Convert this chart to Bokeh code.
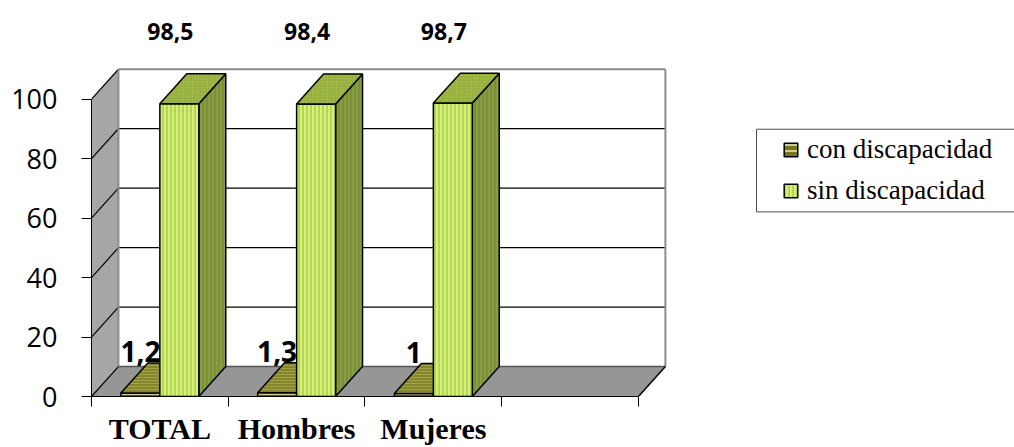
from bokeh.plotting import figure
from bokeh.models import Range1d, FixedTicker, Legend, LegendItem, BoxAnnotation
from bokeh.core.properties import value
from bokeh.embed import file_html
from bokeh.resources import INLINE

# ---- data -------------------------------------------------------------
categories = ["TOTAL", "Hombres", "Mujeres"]
con_discapacidad = [1.2, 1.3, 1.0]
sin_discapacidad = [98.5, 98.4, 98.7]
series_names = ["con discapacidad", "sin discapacidad"]
y_ticks = [0, 20, 40, 60, 80, 100]

# ---- layout of the 3-D box ----------------------------------------------
N_SLOTS = 4          # category axis keeps an empty slot after the last group
Y_MAX = 100
DEPTH_X = 0.197      # depth of the box, horizontal part (category units)
DEPTH_Y = 10.07      # depth of the box, vertical part (value units)
BAR_W = 0.285        # width of one bar (category units)
GAP = (1 - 2 * BAR_W) / 2

p = figure(width=1014, height=447, output_backend="svg", toolbar_location=None,
           x_range=Range1d(0, 6.75), y_range=Range1d(0, 133.2),
           min_border_left=91, min_border_right=0, min_border_top=0,
           min_border_bottom=50)
p.outline_line_color = None
p.grid.visible = False
p.background_fill_color = "white"

# left wall, floor and back wall
p.patch([0, DEPTH_X, DEPTH_X, 0], [0, DEPTH_Y, Y_MAX + DEPTH_Y, Y_MAX],
        fill_color="#a6a6a6", line_color=None)
p.patch([0, N_SLOTS, N_SLOTS + DEPTH_X, DEPTH_X], [0, 0, DEPTH_Y, DEPTH_Y],
        fill_color="#969696", line_color=None)
p.quad(left=DEPTH_X, right=N_SLOTS + DEPTH_X, bottom=DEPTH_Y, top=Y_MAX + DEPTH_Y,
       fill_color="white", line_color=None)

# gridlines on the back wall and their continuation on the left wall
inner = [t for t in y_ticks if 0 < t < Y_MAX]
p.segment(x0=[DEPTH_X] * len(inner), y0=[t + DEPTH_Y for t in inner],
          x1=[N_SLOTS + DEPTH_X] * len(inner), y1=[t + DEPTH_Y for t in inner],
          line_color="black", line_width=1.3)
p.segment(x0=[0] * len(y_ticks), y0=y_ticks,
          x1=[DEPTH_X] * len(y_ticks), y1=[t + DEPTH_Y for t in y_ticks],
          line_color="black", line_width=1.2)

# edges of the box
p.segment(x0=[DEPTH_X, N_SLOTS + DEPTH_X, DEPTH_X],
          y0=[Y_MAX + DEPTH_Y, DEPTH_Y, DEPTH_Y],
          x1=[N_SLOTS + DEPTH_X, N_SLOTS + DEPTH_X, DEPTH_X],
          y1=[Y_MAX + DEPTH_Y, Y_MAX + DEPTH_Y, Y_MAX + DEPTH_Y],
          line_color="#8c8c8c", line_width=2)
p.segment(x0=[DEPTH_X], y0=[DEPTH_Y], x1=[N_SLOTS + DEPTH_X], y1=[DEPTH_Y],
          line_color="#555555", line_width=1.5)
p.segment(x0=[N_SLOTS], y0=[0], x1=[N_SLOTS + DEPTH_X], y1=[DEPTH_Y],
          line_color="black", line_width=1.5)


def bar_faces(vals, offset):
    front, top, side = ([], []), ([], []), ([], [])
    for i, v in enumerate(vals):
        x0 = i + offset
        x1 = x0 + BAR_W
        front[0].append([x0, x1, x1, x0]); front[1].append([0, 0, v, v])
        top[0].append([x0, x1, x1 + DEPTH_X, x0 + DEPTH_X])
        top[1].append([v, v, v + DEPTH_Y, v + DEPTH_Y])
        side[0].append([x1, x1 + DEPTH_X, x1 + DEPTH_X, x1])
        side[1].append([0, DEPTH_Y, v + DEPTH_Y, v])
    return front, top, side


outline = dict(line_color="black", line_width=1.5)

# con discapacidad (dark olive)
c_front, c_top, c_side = bar_faces(con_discapacidad, GAP)
p.patches(*c_side, fill_color="#6b6b10", **outline)
con_front = p.patches(*c_front, fill_color="#77771a", hatch_pattern="-",
                      hatch_color="#e8e8c0", hatch_scale=6, hatch_weight=1.5,
                      **outline)
p.patches(*c_top, fill_color="#85852a", hatch_pattern="-", hatch_color="#a3a34e",
          hatch_scale=3, hatch_weight=1, **outline)

# sin discapacidad (light green)
s_front, s_top, s_side = bar_faces(sin_discapacidad, GAP + BAR_W)
p.patches(*s_side, fill_color="#8a9b4c", hatch_pattern="|", hatch_color="#6f8a1c",
          hatch_scale=4, hatch_weight=1.2, **outline)
sin_front = p.patches(*s_front, fill_color="#d6ec8c", hatch_pattern="|",
                      hatch_color="#a2cf1e", hatch_scale=4, hatch_weight=1.3,
                      **outline)
p.patches(*s_top, fill_color="#a8c055", hatch_pattern="/", hatch_color="#8da832",
          hatch_scale=3, hatch_weight=1, **outline)


def fmt(v):
    return f"{v:g}".replace(".", ",")


# value labels
p.text(x=[i + GAP + BAR_W / 2 for i in range(len(categories))], y=con_discapacidad,
       text=[fmt(v) for v in con_discapacidad], text_align="center",
       text_baseline="middle", y_offset=-41, text_font=value("Open Sans"),
       text_font_style="bold", text_font_size="28px", text_color="black")
p.text(x=[i + GAP + 1.5 * BAR_W for i in range(len(categories))], y=sin_discapacidad,
       text=[fmt(v) for v in sin_discapacidad], text_align="center",
       text_baseline="middle", x_offset=-9, y_offset=-72,
       text_font=value("Open Sans"), text_font_style="bold",
       text_font_size="23px", text_color="black")

# value axis
yax = p.yaxis[0]
yax.ticker = FixedTicker(ticks=y_ticks)
yax.bounds = (0, Y_MAX)
yax.axis_line_color = "black"
yax.major_tick_line_color = "black"
yax.major_tick_out = 10
yax.major_tick_in = 0
yax.minor_tick_line_color = None
yax.major_label_standoff = 24
yax.major_label_text_font = "Open Sans"
yax.major_label_text_font_size = "27px"
yax.major_label_text_color = "black"

# category axis: ticks between groups, names under each group
xax = p.xaxis[0]
xax.ticker = FixedTicker(ticks=[i + 0.5 for i in range(len(categories))],
                         minor_ticks=list(range(N_SLOTS + 1)))
xax.major_label_overrides = {i + 0.5: c for i, c in enumerate(categories)}
xax.bounds = (0, N_SLOTS)
xax.axis_line_color = "black"
xax.major_tick_line_color = None
xax.major_tick_out = 10
xax.major_tick_in = 0
xax.minor_tick_line_color = "black"
xax.minor_tick_out = 10
xax.minor_tick_in = 0
xax.major_label_standoff = 5
xax.major_label_text_font = "Liberation Serif"
xax.major_label_text_font_style = "bold"
xax.major_label_text_font_size = "30px"
xax.major_label_text_color = "black"

# legend
p.add_layout(BoxAnnotation(left=4.863, right=7.0, bottom=62.1, top=89.9,
                           fill_alpha=0, line_color="#4d4d4d", line_alpha=1,
                           line_width=1))
legend = Legend(items=[LegendItem(label=series_names[0], renderers=[con_front]),
                       LegendItem(label=series_names[1], renderers=[sin_front])],
                location=(691, 190), orientation="vertical", padding=0, margin=0,
                border_line_color=None, background_fill_alpha=0,
                glyph_width=17, glyph_height=17, label_standoff=8, spacing=10,
                label_height=30, label_text_font="Liberation Serif",
                label_text_font_size="27px", label_text_color="black")
p.add_layout(legend)

open("out.html", "w").write(file_html(p, INLINE))
